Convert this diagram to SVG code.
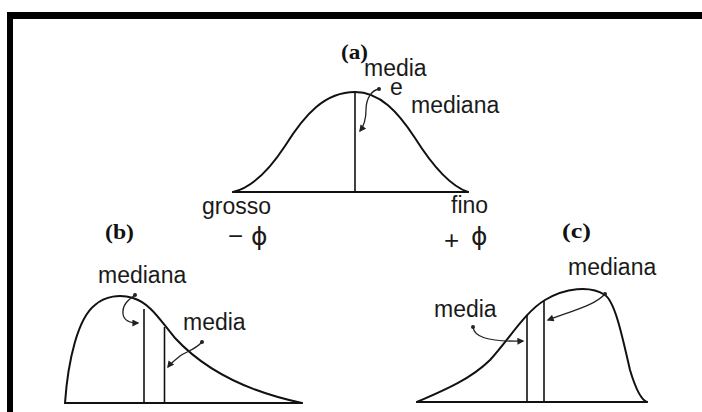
<svg xmlns="http://www.w3.org/2000/svg" width="702" height="412" viewBox="0 0 702 412">
<style>
.crv{fill:none;stroke:#111;stroke-width:2;stroke-linejoin:round;stroke-linecap:round}
.ln{fill:none;stroke:#111;stroke-width:1.6}
.arr{fill:none;stroke:#222;stroke-width:1.3;marker-end:url(#ah);marker-start:url(#dot)}
.t{font-family:"Liberation Sans",Arial,sans-serif;font-size:23px;fill:#1a1a1a}
.s{font-family:"Liberation Sans","DejaVu Sans",sans-serif;font-size:26px;fill:#1a1a1a}
.p{font-family:"DejaVu Sans","Liberation Sans",sans-serif;font-size:25px;fill:#1a1a1a}
.h{font-family:"Liberation Serif","Times New Roman",serif;font-weight:bold;font-size:22px;fill:#111}
</style>
<defs>
<marker id="ah" viewBox="0 0 10 10" refX="8" refY="5" markerWidth="8" markerHeight="7" markerUnits="userSpaceOnUse" orient="auto">
<path d="M0,0 L10,5 L0,10 Z" fill="#222"/>
</marker>
<marker id="dot" viewBox="0 0 4 4" refX="2" refY="2" markerWidth="4" markerHeight="4" markerUnits="userSpaceOnUse">
<circle cx="2" cy="2" r="2" fill="#222"/>
</marker>
</defs>
<rect width="702" height="412" fill="#fff"/>
<g id="frame">
<rect x="7" y="12" width="695" height="7" fill="#000"/>
<rect x="7" y="12" width="6" height="400" fill="#000"/>
</g>
<g id="curve-a">
<path class="crv" d="M233,192 C250,188 268,172 285,146 C305,114 325,92 355,92 C380,92 398,112 415,138 C432,165 450,186 468,192"/>
<line class="crv" x1="233" y1="192" x2="468" y2="192"/>
<line class="ln" x1="355" y1="92" x2="355" y2="192"/>
<text class="h" x="341" y="59" textLength="27" lengthAdjust="spacingAndGlyphs">(a)</text>
<text class="t" x="364" y="76">media</text>
<text class="t" x="390" y="95">e</text>
<text class="t" x="411" y="113">mediana</text>
<text class="t" x="202" y="214">grosso</text>
<text class="t" x="451" y="213">fino</text>
<text class="s" x="228" y="245">−</text>
<text class="p" x="251" y="245">ϕ</text>
<text class="s" x="444" y="249">+</text>
<text class="p" x="471" y="245">ϕ</text>
</g>
<g id="curve-b">
<path class="crv" d="M65,403 C68,360 78,318 95,305 C105,296 120,294 133,298 C150,303 160,320 175,338 C200,365 240,390 302,403"/>
<line class="crv" x1="65" y1="403" x2="302" y2="403"/>
<line class="ln" x1="144" y1="309" x2="144" y2="403"/>
<line class="ln" x1="164.5" y1="327" x2="164.5" y2="403"/>
<text class="h" x="105" y="239" textLength="29" lengthAdjust="spacingAndGlyphs">(b)</text>
<text class="t" x="98" y="283">mediana</text>
<text class="t" x="183" y="330">media</text>
</g>
<g id="curve-c">
<path class="crv" d="M417,402 C440,392 470,380 490,360 C510,338 525,312 545,300 C565,288 590,285 605,295 C615,302 622,335 630,370 C636,390 641,400 647,402"/>
<line class="crv" x1="417" y1="402" x2="647" y2="402"/>
<line class="ln" x1="527" y1="315" x2="527" y2="402"/>
<line class="ln" x1="544" y1="301" x2="544" y2="402"/>
<text class="h" x="562" y="238" textLength="29" lengthAdjust="spacingAndGlyphs">(c)</text>
<text class="t" x="568" y="275">mediana</text>
<text class="t" x="434" y="317">media</text>
</g>
<g id="connectors">
<path class="arr" d="M379,89 C372,90 366,98 366,110 C366,120 363,127 360,131"/>
<path class="arr" d="M135,295 C128,300 122,305 123,314 C124,321 131,323 138,323"/>
<path class="arr" d="M202,342 C195,350 185,352 180,356 C175,360 171,363 168,367"/>
<path class="arr" d="M605,294 C595,305 575,310 548,320"/>
<path class="arr" d="M473,327 C474,336 485,342 523,341"/>
</g>
</svg>
